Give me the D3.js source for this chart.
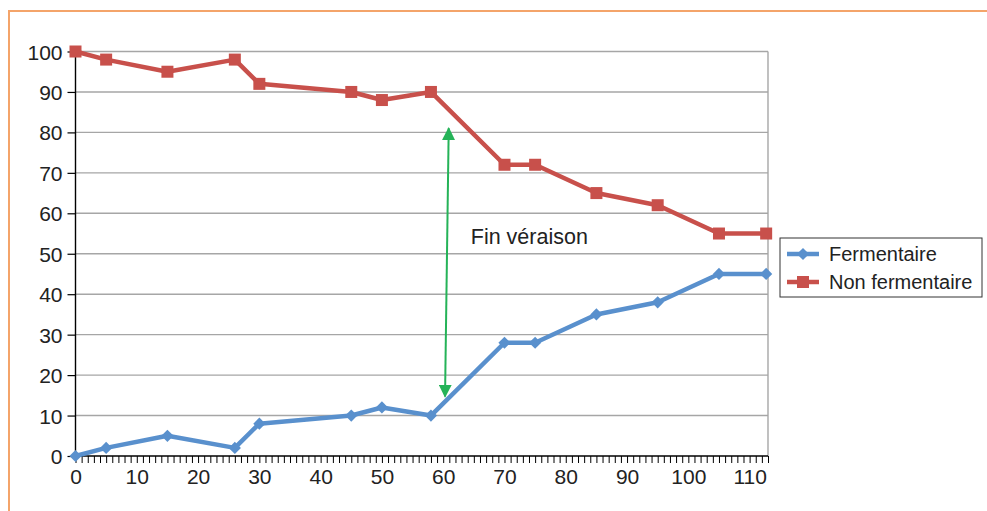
<!DOCTYPE html>
<html><head><meta charset="utf-8">
<script src="https://cdn.jsdelivr.net/npm/d3@7"></script>
<style>body{margin:0;background:#fff}svg{display:block;font-family:"Liberation Sans",Arial,sans-serif}</style>
</head><body>
<svg id="c" width="987" height="511"></svg>
<script>
const days = [0, 5, 15, 26, 30, 45, 50, 58, 70, 75, 85, 95, 105, 112.7];
const fermentaire = [0, 2, 5, 2, 8, 10, 12, 10, 28, 28, 35, 38, 45, 45];
const nonFermentaire = [100, 98, 95, 98, 92, 90, 88, 90, 72, 72, 65, 62, 55, 55];
const seriesNames = ["Fermentaire", "Non fermentaire"];
const xTicks = [0,10,20,30,40,50,60,70,80,90,100,110];
const yTicks = [0,10,20,30,40,50,60,70,80,90,100];
const annotation = {label: "Fin véraison", x1: 60.9, y1: 81, x2: 60.3, y2: 14.7, tx: 64.5, ty: 52.4};

const svg = d3.select("#c");
const x = d3.scaleLinear().domain([0,113]).range([75.5,768]);
const y = d3.scaleLinear().domain([0,100]).range([456,51.5]);
const colors = ["#5990cd", "#c8504b"];
const FF = "Liberation Sans, Arial, sans-serif";

// frame
svg.append("line").attr("x1",9).attr("x2",987).attr("y1",11).attr("y2",11).attr("stroke","#f4a46a").attr("stroke-width",2);
svg.append("line").attr("x1",9).attr("x2",9).attr("y1",10).attr("y2",511).attr("stroke","#f4a46a").attr("stroke-width",2);

// grid
svg.append("g").selectAll("line").data(yTicks.filter(d=>d>0)).join("line")
  .attr("x1",x(0)).attr("x2",768).attr("y1",d=>y(d)).attr("y2",d=>y(d))
  .attr("stroke","#a6a6a6").attr("stroke-width",1.4);
svg.append("line").attr("x1",768).attr("x2",768).attr("y1",y(100)).attr("y2",y(0)).attr("stroke","#a6a6a6").attr("stroke-width",1.4);

// axes
const yAxis = d3.axisLeft(y).tickValues(yTicks).tickSize(8).tickPadding(5).tickFormat(d3.format("d"));
const gy = svg.append("g").attr("transform",`translate(${x(0)},0)`).call(yAxis);
gy.select(".domain").attr("stroke","#000").attr("stroke-width",1.4).attr("d",`M0,${y(100)}V${y(0)}`);
gy.selectAll(".tick line").attr("stroke","#000").attr("stroke-width",1.2);
gy.selectAll("text").attr("font-size",21).attr("fill","#222").attr("font-family",FF).attr("dy","0.36em");

const xAxisMinor = d3.axisBottom(x).tickValues(d3.range(0,114,1)).tickSize(7).tickFormat("");
const gxm = svg.append("g").attr("transform","translate(0,456)").call(xAxisMinor);
gxm.select(".domain").attr("stroke","#000").attr("stroke-width",1.4).attr("d",`M${x(0)},0H${x(113)}`);
gxm.selectAll(".tick line").attr("stroke","#000").attr("stroke-width",1);
const xAxis = d3.axisBottom(x).tickValues(xTicks).tickSize(0).tickPadding(9).tickFormat(d3.format("d"));
const gx = svg.append("g").attr("transform","translate(0,456)").call(xAxis);
gx.select(".domain").remove();
gx.selectAll("text").attr("font-size",21).attr("fill","#222").attr("font-family",FF).attr("dy","0.9em");

// series
const data = [fermentaire, nonFermentaire];
const line = d3.line().x((d,i)=>x(days[i])).y(d=>y(d));
data.forEach((vals,k)=>{
  svg.append("path").datum(vals).attr("d",line).attr("fill","none").attr("stroke",colors[k]).attr("stroke-width",4.5).attr("stroke-linejoin","round");
});
// markers
svg.append("g").selectAll("path").data(fermentaire).join("path")
  .attr("d",d3.symbol(d3.symbolDiamond2,95)).attr("transform",(d,i)=>`translate(${x(days[i])},${y(d)})`).attr("fill",colors[0]);
svg.append("g").selectAll("rect").data(nonFermentaire).join("rect")
  .attr("x",(d,i)=>x(days[i])-6).attr("y",d=>y(d)-6).attr("width",12).attr("height",12).attr("fill",colors[1]);

// annotation arrow
const green = "#25b358";
const defs = svg.append("defs");
defs.append("marker").attr("id","ah").attr("viewBox","0 0 10 10").attr("refX",9).attr("refY",5)
  .attr("markerWidth",6.5).attr("markerHeight",6.5).attr("markerUnits","strokeWidth").attr("orient","auto-start-reverse")
  .append("path").attr("d","M0,0L10,5L0,10z").attr("fill",green);
svg.append("line").attr("x1",x(annotation.x1)).attr("y1",y(annotation.y1)).attr("x2",x(annotation.x2)).attr("y2",y(annotation.y2))
  .attr("stroke",green).attr("stroke-width",2).attr("marker-start","url(#ah)").attr("marker-end","url(#ah)");
svg.append("text").attr("x",x(annotation.tx)).attr("y",y(annotation.ty)).attr("font-size",21.5).attr("fill","#222").attr("font-family",FF).text(annotation.label);

// legend
const lg = svg.append("g");
lg.append("rect").attr("x",780).attr("y",238).attr("width",202).attr("height",59).attr("fill","#fff").attr("stroke","#333").attr("stroke-width",1);
seriesNames.forEach((n,k)=>{
  const yy = 254 + k*28;
  lg.append("line").attr("x1",787).attr("x2",819).attr("y1",yy).attr("y2",yy).attr("stroke",colors[k]).attr("stroke-width",4.5);
  if(k===0) lg.append("path").attr("d",d3.symbol(d3.symbolDiamond2,95)).attr("transform",`translate(803,${yy})`).attr("fill",colors[0]);
  else lg.append("rect").attr("x",797).attr("y",yy-6).attr("width",12).attr("height",12).attr("fill",colors[1]);
  lg.append("text").attr("x",829).attr("y",yy).attr("dy","0.36em").attr("font-size",20).attr("fill","#222").attr("font-family",FF).text(n);
});
</script>
</body></html>
